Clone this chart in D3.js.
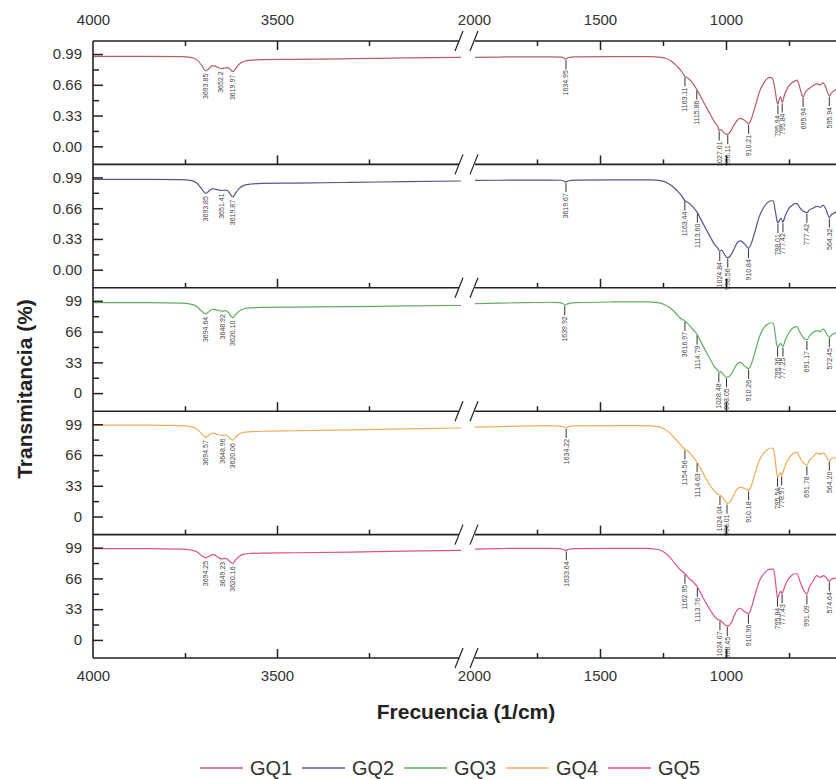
<!DOCTYPE html>
<html>
<head>
<meta charset="utf-8">
<title>FTIR GQ1-GQ5</title>
<script src="https://cdn.jsdelivr.net/npm/d3@7"></script>
<style>
body{margin:0;background:#fff;}
svg{display:block;font-family:Arial, "Liberation Sans", sans-serif;}
.lab text{fill:#333;font-size:15px;}
.mark line{stroke:#222;stroke-width:1.5;}
.peak text{fill:#444;font-size:7px;}
</style>
</head>
<body>
<svg id="chart" width="836" height="779"></svg>
<script>

// series
var names = ["GQ1", "GQ2", "GQ3", "GQ4", "GQ5"];
var colors = ["#b95c6c", "#55558f", "#5fae5f", "#f2ad5c", "#e2508a"];

// tick values
var leftLabels = [4000, 3500];
var rightLabels = [2000, 1500, 1000];
var leftMajor = [3500], leftMinor = [3750, 3250];
var rightMajor = [1500, 1000], rightMinor = [1750, 1250, 750];
var fracTicks = [0.99, 0.66, 0.33, 0.00], fracMinor = [0.825, 0.495, 0.165];
var pctTicks = [99, 66, 33, 0], pctMinor = [82.5, 49.5, 16.5];

// GQ1 (fraction)
var gq1Left = [[4000,.965],[3850,.965],[3760,.962],[3735,.955],[3718,.93],[3705,.87],[3697,.82],[3693,.81],[3686,.83],[3676,.865],[3668,.86],[3658,.84],[3650,.835],[3641,.84],[3634,.845],[3627,.825],[3620,.80],[3613,.83],[3603,.88],[3590,.91],[3570,.925],[3540,.93],[3450,.933],[3300,.94],[3150,.948],[3000,.955]];
var gq1Right = [[2000,.955],[1900,.958],[1800,.96],[1700,.96],[1655,.958],[1642,.945],[1635,.935],[1628,.95],[1600,.96],[1450,.962],[1300,.962],[1260,.955],[1240,.945],[1215,.91],[1195,.86],[1175,.80],[1163,.75],[1150,.73],[1130,.67],[1116,.61],[1100,.53],[1080,.43],[1060,.33],[1045,.26],[1032,.21],[1027,.17],[1020,.18],[1010,.15],[1000,.13],[993,.13],[982,.16],[968,.23],[955,.28],[945,.30],[930,.285],[918,.26],[910,.24],[900,.29],[885,.42],[868,.58],[850,.68],[835,.73],[822,.74],[814,.72],[805,.6],[798,.48],[794,.45],[788,.51],[783,.53],[777,.47],[768,.55],[755,.63],[740,.68],[728,.70],[718,.71],[710,.66],[702,.58],[694,.53],[685,.58],[670,.62],[655,.65],[640,.67],[625,.66],[615,.68],[605,.64],[597,.58],[590,.54],[582,.57],[570,.60],[555,.62]];
var gq1PeakAt = [3693.85, 3652.2, 3619.97, 1635, 1163.11, 1115.86, 1027.01, 993, 910.21, 794, 777, 694, 590];
var gq1PeakText = ["3693.85","3652.2","3619.97","1634.95","1163.11","1115.86","1027.01","996.11","910.21","795.94","795.84","695.94","595.94"];

// GQ2 (fraction)
var gq2Left = [[4000,.97],[3850,.97],[3760,.967],[3735,.958],[3718,.93],[3705,.87],[3697,.83],[3693,.82],[3686,.84],[3676,.87],[3668,.865],[3658,.855],[3651,.85],[3642,.855],[3634,.85],[3627,.81],[3620,.78],[3613,.82],[3603,.87],[3590,.905],[3570,.92],[3540,.927],[3450,.93],[3300,.937],[3150,.945],[3000,.952]];
var gq2Right = [[2000,.958],[1900,.96],[1800,.962],[1700,.962],[1655,.96],[1642,.95],[1635,.94],[1628,.952],[1600,.962],[1450,.965],[1300,.963],[1260,.955],[1240,.94],[1215,.90],[1195,.85],[1175,.79],[1163,.74],[1150,.72],[1130,.67],[1113,.61],[1100,.54],[1080,.44],[1060,.34],[1045,.27],[1032,.23],[1025,.20],[1018,.21],[1005,.16],[995,.13],[988,.135],[978,.17],[965,.24],[952,.30],[942,.31],[928,.28],[918,.25],[910,.23],[900,.28],[885,.41],[868,.57],[850,.67],[835,.72],[822,.74],[813,.74],[805,.64],[798,.53],[794,.50],[788,.53],[781,.55],[774,.51],[766,.57],[752,.65],[738,.69],[726,.71],[718,.71],[708,.67],[695,.63],[686,.62],[679,.61],[670,.64],[655,.66],[640,.68],[625,.67],[615,.69],[605,.66],[597,.60],[590,.56],[582,.59],[570,.61],[555,.63]];
var gq2PeakAt = [3693.85, 3651.41, 3619.87, 1635, 1163.44, 1113.60, 1024.84, 993, 910.84, 794, 774, 679, 590];
var gq2PeakText = ["3693.85","3651.41","3619.87","3619.67","1163.44","1113.60","1024.84","998.56","910.84","798.01","777.42","777.42","564.32"];

// GQ3 (percent)
var gq3Left = [[4000,97],[3850,97],[3760,96.5],[3735,95.5],[3718,93],[3705,88],[3697,85.5],[3694,85],[3686,87],[3676,90],[3668,89.5],[3658,88.5],[3649,88],[3640,88.5],[3633,87],[3626,83],[3620,81],[3613,84],[3603,88],[3590,90.5],[3570,91.5],[3540,92],[3450,92.3],[3300,92.8],[3150,93.5],[3000,94]];
var gq3Right = [[2000,96],[1900,96.5],[1800,97],[1700,97.5],[1660,97],[1645,95.5],[1639,94],[1632,95.5],[1600,97],[1450,97.8],[1320,98],[1270,97],[1245,95],[1220,91],[1200,86],[1180,80],[1163,77.5],[1150,74],[1130,68],[1115,63],[1100,55],[1080,45],[1060,35],[1045,28],[1034,25],[1028,22],[1020,23],[1008,19],[998,17],[990,17.5],[980,20],[966,27],[953,32],[943,33],[930,30],[918,27.5],[910,26],[900,31],[885,44],[868,60],[850,70],[835,74],[822,75.5],[813,75],[805,64],[799,52],[794,49],[788,52],[782,53],[774,50],[766,56],[752,64],[738,69],[726,71],[718,71],[708,66],[695,60],[686,58],[679,57],[670,61],[655,65],[640,67],[625,66],[615,69],[605,66],[597,62],[590,60],[582,62],[570,64],[555,65]];
var gq3PeakAt = [3694.64, 3648.92, 3620.10, 1639.92, 1163, 1114.79, 1028.48, 998.05, 910.26, 795.36, 774, 679, 590];
var gq3PeakText = ["3694.64","3648.92","3620.10","1639.92","3616.97","1114.79","1028.48","998.05","910.26","795.36","777.25","691.17","572.45"];

// GQ4 (percent)
var gq4Left = [[4000,98],[3850,98],[3760,97.5],[3735,96.5],[3718,94],[3705,89],[3697,85.5],[3694,85],[3686,87],[3676,89.5],[3668,89],[3658,87.5],[3649,87],[3640,87.5],[3633,86],[3626,83],[3620,82],[3613,85],[3603,88.5],[3590,90.5],[3570,91],[3540,91.5],[3450,92],[3300,93],[3150,94],[3000,95]];
var gq4Right = [[2000,96],[1900,96.5],[1800,97],[1700,97.5],[1660,97],[1645,96],[1634,95],[1625,96.5],[1600,97.2],[1450,97.6],[1320,97.5],[1270,96.5],[1245,94],[1220,89],[1200,83],[1180,77],[1163,72],[1150,70],[1140,67],[1125,62],[1114,58],[1100,51],[1080,41],[1060,32],[1045,27],[1033,24],[1024,23],[1015,21],[1005,17],[996,14],[988,15],[978,18],[966,25],[953,30],[943,31.5],[930,30.5],[918,29],[910,28],[900,33],[885,46],[868,60],[850,68],[835,72],[822,73.5],[813,73],[805,62],[799,47],[795,42],[789,45],[783,47],[779,44],[770,51],[756,60],[740,66],[728,68.5],[718,69],[708,64],[695,58],[686,56],[679,55],[670,60],[655,64],[640,68],[625,67],[613,68],[603,65],[596,61],[590,60],[582,62],[570,63],[555,64]];
var gq4PeakAt = [3694.57, 3648.96, 3620.06, 1634.22, 1163, 1114.63, 1024.04, 996.01, 910.18, 795.54, 778.97, 679, 590];
var gq4PeakText = ["3694.57","3648.96","3620.06","1634.22","1154.56","1114.63","1024.04","996.01","910.18","795.54","778.97","691.78","564.20"];

// GQ5 (percent)
var gq5Left = [[4000,98],[3850,98],[3760,97.5],[3735,96.5],[3718,94.5],[3705,90.5],[3697,88.5],[3694,88],[3686,89.5],[3676,91.5],[3668,91],[3658,88],[3649,87],[3640,87.5],[3633,86],[3626,83.5],[3620,82],[3613,85.5],[3603,89.5],[3590,92],[3570,92.8],[3540,93.2],[3450,93.5],[3300,94.3],[3150,95.3],[3000,96]];
var gq5Right = [[2000,97.5],[1900,98],[1800,98.3],[1700,98.3],[1660,98],[1645,97],[1634,96],[1625,97.3],[1600,98],[1450,98.3],[1320,98.2],[1270,97],[1245,94],[1220,88],[1200,81],[1180,75],[1163,71],[1150,67],[1130,62],[1114,57],[1100,50],[1080,40],[1060,31],[1045,25],[1033,22],[1024,21],[1015,19],[1003,16],[995,15],[988,15.5],[978,19],[966,27],[953,33],[943,34],[930,31],[918,29],[910,28],[900,34],[885,48],[868,63],[850,71],[835,75],[822,76],[812,76],[805,66],[799,51],[795,45],[789,49],[783,52],[777,50],[770,55],[756,64],[740,69],[728,71],[718,71],[708,64],[695,55],[686,51],[679,49],[670,56],[655,63],[640,69],[625,67],[613,69],[603,67],[596,64],[590,63],[582,65],[570,66],[555,67]];
var gq5PeakAt = [3694.25, 3649.23, 3620.16, 1633.64, 1162.95, 1113.76, 1024.07, 995, 910.96, 795.84, 777.43, 679, 590];
var gq5PeakText = ["3694.25","3649.23","3620.16","1633.64","1162.95","1113.76","1024.07","998.45","910.96","795.84","777.43","991.09","574.64"];

var series = [
	{left: gq1Left, right: gq1Right, at: gq1PeakAt, text: gq1PeakText, frac: true},
	{left: gq2Left, right: gq2Right, at: gq2PeakAt, text: gq2PeakText, frac: true},
	{left: gq3Left, right: gq3Right, at: gq3PeakAt, text: gq3PeakText, frac: false},
	{left: gq4Left, right: gq4Right, at: gq4PeakAt, text: gq4PeakText, frac: false},
	{left: gq5Left, right: gq5Right, at: gq5PeakAt, text: gq5PeakText, frac: false}
];

// layout
var plotLeft = 93, plotTop = 41, panelH = 123.4, W = 836;
var breakL = 459, breakR = 475;

var svg = d3.select("#chart");

var xL = d3.scaleLinear().domain([4000, 3000]).range([plotLeft, 461]);
var xR = d3.scaleLinear().domain([2000, 500]).range([474, 852]);

var line = function(xs, y){
	return d3.line().x(function(d){ return xs(d[0]); }).y(function(d){ return y(d[1]); }).curve(d3.curveMonotoneX);
};

function valueAt(data, wn){
	for(var i = 0; i < data.length - 1; i++){
		if(data[i][0] >= wn && data[i+1][0] <= wn){
			var t = (data[i][0] - wn) / (data[i][0] - data[i+1][0]);
			return data[i][1] + t * (data[i+1][1] - data[i][1]);
		}
	}
	return data[data.length-1][1];
}

svg.append("defs").append("clipPath").attr("id", "clipR")
	.append("rect").attr("x", breakR).attr("y", 0).attr("width", W - breakR).attr("height", 779);

series.forEach(function(s, i){
	var top = plotTop + i * panelH, bottom = top + panelH;
	var y = d3.scaleLinear()
		.domain(s.frac ? [-0.194, 1.13] : [-19.4, 113])
		.range([bottom, top]);

	var g = svg.append("g");

	// curves
	g.append("path").datum(s.left)
		.attr("d", line(xL, y))
		.attr("fill", "none").attr("stroke", colors[i]).attr("stroke-width", 1.2);
	g.append("path").datum(s.right)
		.attr("d", line(xR, y))
		.attr("clip-path", "url(#clipR)")
		.attr("fill", "none").attr("stroke", colors[i]).attr("stroke-width", 1.2);

	// peak labels
	s.at.forEach(function(wn, k){
		var left = wn > 2500;
		var px = left ? xL(wn) : xR(wn);
		var py = y(valueAt(left ? s.left : s.right, wn));
		var pk = g.append("g").attr("class", "peak");
		var ty = py + 3;
		if(!left){
			pk.append("line").attr("x1", px).attr("x2", px)
				.attr("y1", py + 1).attr("y2", py + 10)
				.attr("stroke", "#333").attr("stroke-width", 1);
			ty = py + 11;
		}
		pk.append("text")
			.attr("transform", "translate(" + px + "," + ty + ") rotate(-90)")
			.attr("text-anchor", "end")
			.attr("dy", "0.35em")
			.text(s.text[k]);
	});

	// y axis
	var fmt = s.frac ? d3.format(".2f") : d3.format("d");
	var ya = g.append("g").attr("class", "lab mark")
		.attr("transform", "translate(" + plotLeft + ",0)")
		.call(d3.axisLeft(y).tickValues(s.frac ? fracTicks : pctTicks).tickSize(-10).tickPadding(11).tickFormat(fmt));
	ya.select(".domain").remove();
	var ym = g.append("g").attr("class", "mark")
		.attr("transform", "translate(" + plotLeft + ",0)")
		.call(d3.axisLeft(y).tickValues(s.frac ? fracMinor : pctMinor).tickSize(-6).tickFormat(""));
	ym.select(".domain").remove();

	// bottom ticks of each panel (pointing up)
	[[xL, leftMajor, -9], [xL, leftMinor, -5], [xR, rightMajor, -9], [xR, rightMinor, -5]].forEach(function(a){
		var t = g.append("g").attr("class", "mark")
			.attr("transform", "translate(0," + bottom + ")")
			.call(d3.axisBottom(a[0]).tickValues(a[1]).tickSize(a[2]).tickFormat(""));
		t.select(".domain").remove();
	});

	if(i === 0){
		[[xL, leftMajor, -9], [xL, leftMinor, -5], [xR, rightMajor, -9], [xR, rightMinor, -5]].forEach(function(a){
			var t = g.append("g").attr("class", "mark")
				.attr("transform", "translate(0," + top + ")")
				.call(d3.axisTop(a[0]).tickValues(a[1]).tickSize(a[2]).tickFormat(""));
			t.select(".domain").remove();
		});
	}
});

// frame lines with break
var frame = svg.append("g").attr("stroke", "#222").attr("stroke-width", 1.6);
for(var j = 0; j <= series.length; j++){
	var yy = plotTop + j * panelH;
	frame.append("line").attr("x1", plotLeft).attr("x2", breakL).attr("y1", yy).attr("y2", yy);
	frame.append("line").attr("x1", breakR).attr("x2", W).attr("y1", yy).attr("y2", yy);
	frame.append("line").attr("x1", breakL - 4).attr("x2", breakL + 4).attr("y1", yy + 10).attr("y2", yy - 10).attr("stroke-width", 1.2);
	frame.append("line").attr("x1", breakR - 5).attr("x2", breakR + 3).attr("y1", yy + 10).attr("y2", yy - 10).attr("stroke-width", 1.2);
}
frame.append("line").attr("x1", plotLeft).attr("x2", plotLeft)
	.attr("y1", plotTop).attr("y2", plotTop + series.length * panelH);

// x labels top and bottom
var plotBottom = plotTop + series.length * panelH;
[[xL, leftLabels], [xR, rightLabels]].forEach(function(a){
	var t = svg.append("g").attr("class", "lab")
		.attr("transform", "translate(0," + plotTop + ")")
		.call(d3.axisTop(a[0]).tickValues(a[1]).tickSize(0).tickPadding(16).tickFormat(d3.format("d")));
	t.select(".domain").remove();
	var b = svg.append("g").attr("class", "lab")
		.attr("transform", "translate(0," + plotBottom + ")")
		.call(d3.axisBottom(a[0]).tickValues(a[1]).tickSize(0).tickPadding(12).tickFormat(d3.format("d")));
	b.select(".domain").remove();
});

// titles
svg.append("text")
	.attr("x", 466).attr("y", 712).attr("dy", "0.35em")
	.attr("text-anchor", "middle")
	.style("font-size", "21px").style("font-weight", "bold").style("fill", "#222")
	.text("Frecuencia (1/cm)");

svg.append("text")
	.attr("transform", "translate(25,389) rotate(-90)")
	.attr("dy", "0.35em")
	.attr("text-anchor", "middle")
	.style("font-size", "21px").style("font-weight", "bold").style("fill", "#222")
	.text("Transmitancia (%)");

// legend
var leg = svg.append("g").attr("transform", "translate(200,768)");
names.forEach(function(n, i){
	var it = leg.append("g").attr("transform", "translate(" + (i * 102) + ",0)");
	it.append("line").attr("x1", 0).attr("x2", 43).attr("y1", 0).attr("y2", 0)
		.attr("stroke", colors[i]).attr("stroke-width", 1.5);
	it.append("text").attr("x", 50).attr("dy", "0.35em")
		.style("font-size", "20px").style("fill", "#333")
		.text(n);
});

</script>
</body>
</html>
